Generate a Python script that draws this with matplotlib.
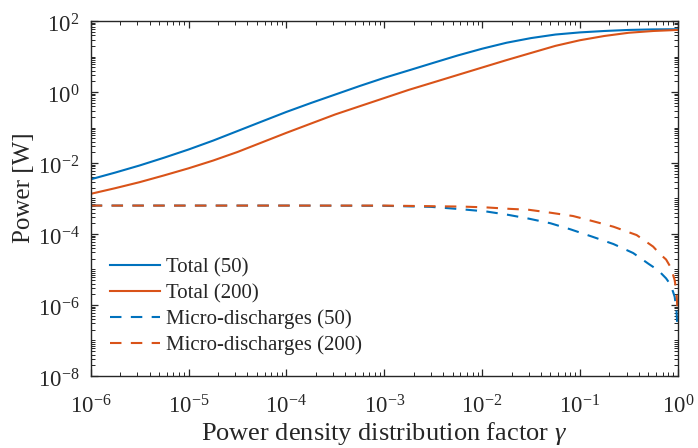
import matplotlib
matplotlib.use("Agg")
import matplotlib.pyplot as plt
from matplotlib.ticker import LogLocator, NullFormatter
from matplotlib.transforms import ScaledTranslation

plt.rcParams['font.family'] = ['Liberation Serif', 'DejaVu Serif']
plt.rcParams['mathtext.fontset'] = 'custom'
plt.rcParams['mathtext.rm'] = 'Liberation Serif'
plt.rcParams['mathtext.it'] = 'Liberation Serif:italic'

# ---- data ----
gamma_total = [1e-6, 1.78e-6, 3.16e-6, 5.62e-6, 1e-5, 1.78e-5, 3.16e-5, 5.62e-5,
               1e-4, 1.78e-4, 3.16e-4, 5.62e-4, 1e-3, 1.78e-3, 3.16e-3, 5.62e-3,
               1e-2, 1.78e-2, 3.16e-2, 5.62e-2, 1e-1, 0.178, 0.316, 0.562, 1.0]
total_50 = [3.47e-3, 5.37e-3, 8.51e-3, 1.41e-2, 2.40e-2, 4.27e-2, 7.94e-2, 0.148,
            0.275, 0.490, 0.851, 1.48, 2.51, 4.07, 6.61, 10.7,
            16.6, 24.5, 33.1, 41.7, 47.9, 52.5, 56.2, 58.2, 58.9]
total_200 = [1.35e-3, 1.95e-3, 2.88e-3, 4.47e-3, 7.08e-3, 1.17e-2, 2.04e-2, 3.80e-2,
             7.08e-2, 0.129, 0.234, 0.398, 0.676, 1.15, 1.86, 3.02,
             4.90, 7.94, 12.6, 20.0, 28.8, 38.0, 46.8, 52.5, 56.2]

gamma_md50 = [1e-6, 1e-4, 1e-3, 3e-3, 6e-3, 0.011, 0.018, 0.03, 0.05, 0.08, 0.135,
              0.22, 0.35, 0.51, 0.63, 0.76, 0.85, 0.93, 0.97, 0.99]
md_50 = [6.3e-4, 6.3e-4, 6.2e-4, 5.8e-4, 5.0e-4, 4.3e-4, 3.5e-4, 2.7e-4, 2.0e-4,
         1.35e-4, 8.3e-5, 5.2e-5, 2.9e-5, 1.4e-5, 9.5e-6, 5.6e-6, 3.6e-6, 1.7e-6,
         7.2e-7, 2.4e-7]

gamma_md200 = [1e-6, 1e-3, 6.3e-3, 0.011, 0.019, 0.03, 0.049, 0.085, 0.135, 0.22,
               0.38, 0.56, 0.66, 0.76, 0.85, 0.93, 0.97, 0.99]
md_200 = [6.3e-4, 6.3e-4, 5.9e-4, 5.6e-4, 5.1e-4, 4.8e-4, 4.0e-4, 3.2e-4, 2.3e-4,
          1.6e-4, 9.3e-5, 4.4e-5, 2.7e-5, 1.9e-5, 1.12e-5, 5.0e-6, 2.3e-6, 8.3e-7]

labels = ['Total (50)', 'Total (200)', 'Micro-discharges (50)', 'Micro-discharges (200)']
xtick_vals = [1e-6, 1e-5, 1e-4, 1e-3, 1e-2, 1e-1, 1e0]
xtick_labels = [r'$10^{-6}$', r'$10^{-5}$', r'$10^{-4}$', r'$10^{-3}$', r'$10^{-2}$',
                r'$10^{-1}$', r'$10^{0}$']
ytick_vals = [1e-8, 1e-6, 1e-4, 1e-2, 1e0, 1e2]
ytick_labels = [r'$10^{-8}$', r'$10^{-6}$', r'$10^{-4}$', r'$10^{-2}$', r'$10^{0}$', r'$10^{2}$']

blue = '#0072BD'
orange = '#D95319'
dash = (0, (5.5, 4.5))
txt_col = '#262626'

fig = plt.figure(figsize=(6.98, 4.48), dpi=100)
ax = fig.add_axes([0.130, 0.161, 0.841, 0.792])

ax.loglog(gamma_total, total_50, color=blue, lw=1.5, label=labels[0])
ax.loglog(gamma_total, total_200, color=orange, lw=1.5, label=labels[1])
ax.loglog(gamma_md50, md_50, color=blue, lw=1.5, linestyle=dash, label=labels[2])
ax.loglog(gamma_md200, md_200, color=orange, lw=1.5, linestyle=dash, label=labels[3])

ax.set_xlim(1e-6, 1e0)
ax.set_ylim(1e-8, 1e2)
ax.set_xticks(xtick_vals)
ax.set_xticklabels(xtick_labels)
ax.set_yticks(ytick_vals)
ax.set_yticklabels(ytick_labels)
ax.xaxis.set_minor_locator(LogLocator(base=10, subs=range(1, 10), numticks=100))
ax.yaxis.set_minor_locator(LogLocator(base=10, subs=range(1, 10), numticks=100))
ax.xaxis.set_minor_formatter(NullFormatter())
ax.yaxis.set_minor_formatter(NullFormatter())

for s in ax.spines.values():
    s.set_color(txt_col)
    s.set_linewidth(1.0)
ax.tick_params(which='both', direction='in', top=True, right=True, color=txt_col,
               labelsize=16.5, labelcolor=txt_col)
ax.tick_params(which='major', length=5, width=0.9)
ax.tick_params(which='minor', length=3, width=0.7)
ax.tick_params(axis='x', which='major', pad=14)
ax.tick_params(axis='y', which='major', pad=8)

# shift y tick labels slightly down, as in the reference
for lab in ax.get_yticklabels():
    lab.set_transform(lab.get_transform() + ScaledTranslation(0, -2 / 72, fig.dpi_scale_trans))

ax.set_xlabel(r'Power density distribution factor $\gamma$', fontsize=19, color=txt_col, labelpad=1)
ax.set_ylabel('Power [W]', fontsize=18, color=txt_col)
ax.yaxis.set_label_coords(-0.095, 0.53)

leg = ax.legend(loc='lower left', bbox_to_anchor=(0.032, 0.058), frameon=False,
                fontsize=15, handlelength=2.4, handletextpad=0.3, labelspacing=0.3,
                borderpad=0, borderaxespad=0)
for t in leg.get_texts():
    t.set_color(txt_col)

fig.savefig('out.png', dpi=100)
